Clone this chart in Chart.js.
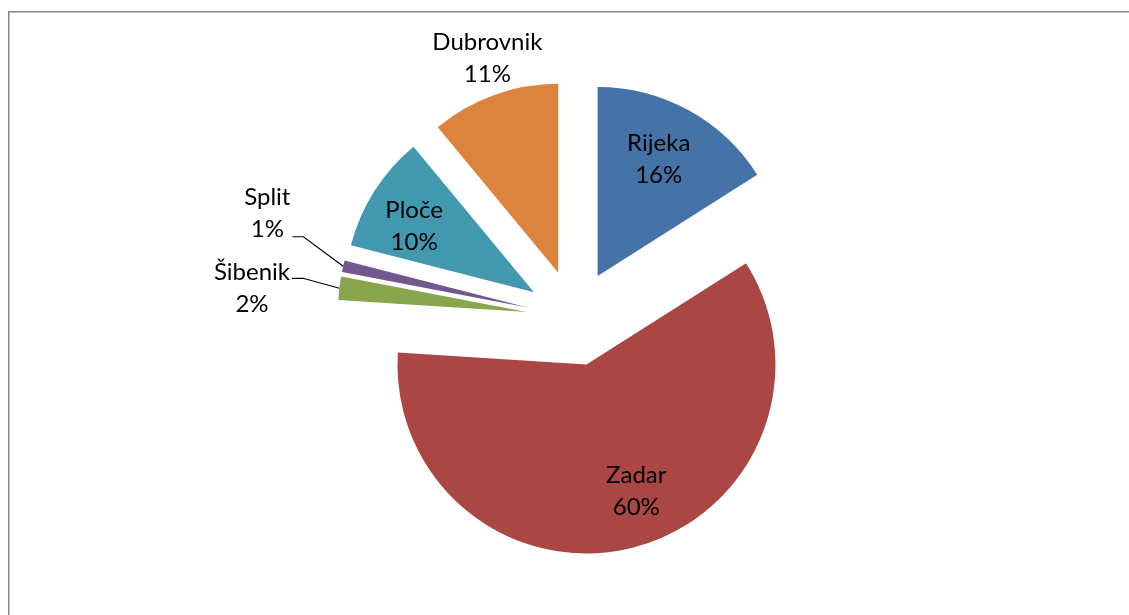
<!DOCTYPE html>
<html>
<head>
<meta charset="utf-8">
<script src="https://cdn.jsdelivr.net/npm/chart.js@4/dist/chart.umd.min.js"></script>
<style>
html,body{margin:0;padding:0;background:#fff;}
#wrap{width:1129px;height:615px;position:relative;}
</style>
</head>
<body>
<div id="wrap"><canvas id="c"></canvas></div>
<script>
// ---- data ----
const categories = ['Rijeka', 'Zadar', 'Šibenik', 'Split', 'Ploče', 'Dubrovnik'];
const shares = [16, 60, 2, 1, 10, 11];
const colors = ['#4572A7', '#AA4643', '#89A54E', '#71588F', '#4198AF', '#DB843D'];

// ---- label placement (style only) ----
const labelRadius = [0.70, 0.717, 1.46, 1.466, 0.725, 1.20];
const labelAngleShift = [-1.3, -7.2, -2.2, 7.4, -3.4, 1.6];
const leaderLine = [false, false, true, true, false, false];

const total = shares.reduce((a, b) => a + b, 0);
const percentLabels = shares.map(v => Math.round(v / total * 100) + '%');

const FONT = '24px Lato, "Open Sans", sans-serif';
const LINE_H = 32;

const framePlugin = {
  id: 'frame',
  beforeDraw(chart) {
    const ctx = chart.ctx;
    ctx.save();
    ctx.strokeStyle = '#868686';
    ctx.lineWidth = 1.5;
    ctx.strokeRect(8.75, 11.75, 1300, 800);
    ctx.restore();
  }
};

const explodePlugin = {
  id: 'explode',
  beforeDatasetDraw(chart, args, opts) {
    const ctx = chart.ctx;
    const d = opts.distance || 0;
    args.meta.data.forEach(arc => {
      const mid = (arc.startAngle + arc.endAngle) / 2;
      ctx.save();
      ctx.translate(Math.cos(mid) * d, Math.sin(mid) * d);
      arc.draw(ctx);
      ctx.restore();
    });
    return false;
  },
  afterDatasetsDraw(chart, args, opts) {
    const ctx = chart.ctx;
    const d = opts.distance || 0;
    const meta = chart.getDatasetMeta(0);
    ctx.save();
    ctx.font = FONT;
    ctx.fillStyle = '#000';
    ctx.textAlign = 'center';
    ctx.textBaseline = 'alphabetic';
    meta.data.forEach((arc, i) => {
      const mid = (arc.startAngle + arc.endAngle) / 2;
      const vx = arc.x + Math.cos(mid) * d;
      const vy = arc.y + Math.sin(mid) * d;
      const a = mid + labelAngleShift[i] * Math.PI / 180;
      const r = arc.outerRadius * labelRadius[i];
      const cx = vx + Math.cos(a) * r;
      const cy = vy + Math.sin(a) * r;
      const lines = [categories[i], percentLabels[i]];
      ctx.fillText(lines[0], cx, cy - LINE_H / 2 + 8.5);
      ctx.fillText(lines[1], cx, cy + LINE_H / 2 + 8.5);
      if (leaderLine[i]) {
        const tx = vx + Math.cos(mid) * arc.outerRadius;
        const ty = vy + Math.sin(mid) * arc.outerRadius;
        const w = Math.max(ctx.measureText(lines[0]).width, ctx.measureText(lines[1]).width);
        const sx = cx + w / 2 + 2;
        const sy = Math.min(ty - 10, cy + 24);
        ctx.beginPath();
        ctx.strokeStyle = '#000';
        ctx.lineWidth = 1.2;
        ctx.moveTo(sx, sy);
        ctx.lineTo(sx + 11, sy);
        ctx.lineTo(tx, ty);
        ctx.stroke();
      }
    });
    ctx.restore();
  }
};

new Chart(document.getElementById('c'), {
  type: 'pie',
  data: {
    labels: categories,
    datasets: [{
      data: shares,
      backgroundColor: colors,
      borderWidth: 0
    }]
  },
  options: {
    responsive: true,
    maintainAspectRatio: false,
    animation: false,
    radius: 189,
    layout: { padding: { left: 20, right: 0, top: 21, bottom: 0 } },
    plugins: {
      legend: { display: false },
      tooltip: { enabled: false },
      explode: { distance: 48 }
    }
  },
  plugins: [framePlugin, explodePlugin]
});
</script>
</body>
</html>
